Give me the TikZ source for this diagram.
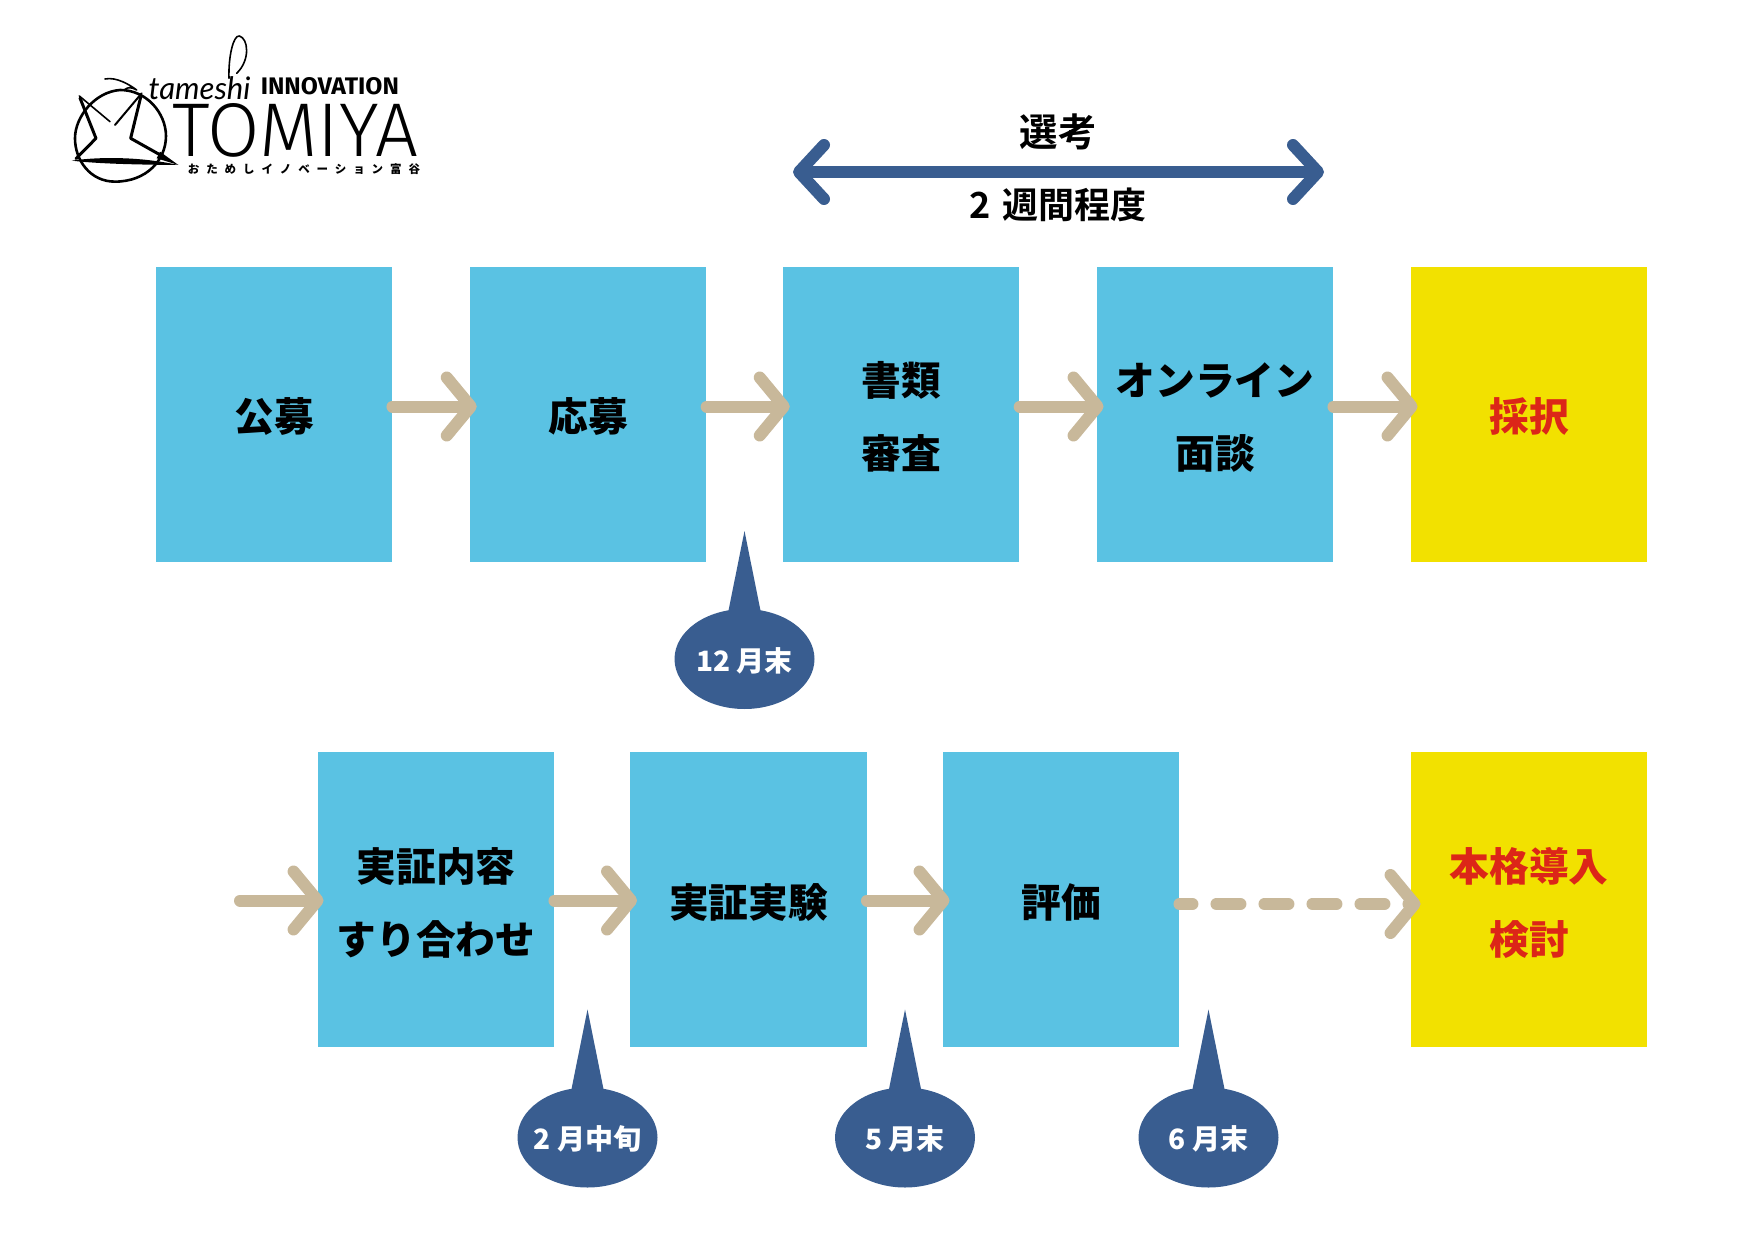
\documentclass[tikz,border=0pt]{standalone}
\usepackage{graphicx}
\usepackage{fontspec}
\usetikzlibrary{arrows.meta,shapes.geometric,calc}
\newfontfamily\cjkblack{Noto Sans CJK JP Black}
\newfontfamily\cjkbold{Noto Sans CJK JP Bold}
\newfontfamily\cjktrack[LetterSpace=60]{Noto Sans CJK JP Black}
\newfontfamily\logothin{Lato}
\newfontfamily\logowide{Fira Sans Light}
\newfontfamily\logobold{Fira Sans Bold}
\definecolor{boxblue}{HTML}{5AC2E3}
\definecolor{boxyellow}{HTML}{F2E100}
\definecolor{textred}{HTML}{DC2618}
\definecolor{tan}{HTML}{C8B89A}
\definecolor{navy}{HTML}{395D90}
\tikzset{
  stagebox/.style={rectangle,draw=none,minimum width=236.5pt,minimum height=295pt,inner sep=0pt,align=center,
     font=\cjkblack\fontsize{39.7pt}{73pt}\selectfont,text=black,text height=41pt,text depth=8pt},
  twolines/.style={text height=115pt,text depth=8pt},
  twolinesb/.style={text height=117pt,text depth=8pt},
  lowone/.style={text height=44pt,text depth=8pt},
  bluebox/.style={stagebox,fill=boxblue},
  yellowbox/.style={stagebox,fill=boxyellow,text=textred},
  flow/.style={draw=tan,line width=12pt,line cap=round,
     -{Straight Barb[length=24pt,width=58pt,line width=12pt,round]}},
  flowdash/.style={flow,dash pattern=on 24pt off 24pt,dash phase=11pt},
  span/.style={draw=navy,line width=12pt,
     {Straight Barb[length=25pt,width=54pt,line width=12pt,round]}-{Straight Barb[length=25pt,width=54pt,line width=12pt,round]}},
  bubble/.style={ellipse,fill=navy,minimum width=140pt,minimum height=100pt,inner ysep=0pt,inner xsep=-20pt,text=white,
     font=\cjkblack\fontsize{28pt}{32pt}\selectfont,text height=30pt,text depth=6pt},
  toptext/.style={font=\cjkbold\fontsize{36pt}{44pt}\selectfont,text=black,inner sep=0pt},
  logoink/.style={draw=black,line cap=round,line join=round},
}
\newcommand{\spike}[1]{\fill[navy] ([xshift=-16.5pt,yshift=46pt]#1.center) -- ([yshift=128pt]#1.center) -- ([xshift=16.5pt,yshift=46pt]#1.center) -- cycle;}
\begin{document}
\begin{tikzpicture}[x=1pt,y=-1pt]
\useasboundingbox (0,0) rectangle (1754,1241);
% top row
\node[bluebox] (a1) at (274,414.5) {公募};
\node[bluebox] (a2) at (588.2,414.5) {応募};
\node[bluebox,twolines] (a3) at (901.2,414.5) {書類\\審査};
\node[bluebox,twolines] (a4) at (1215,414.5) {オンライン\\面談};
\node[yellowbox] (a5) at (1529,414.5) {採択};
% bottom row
\node[bluebox,twolinesb] (b1) at (436,899.5) {実証内容\\[-0.5pt]すり合わせ};
\node[bluebox,lowone] (b2) at (748.5,899.5) {実証実験};
\node[bluebox,lowone] (b3) at (1061,899.5) {評価};
\node[yellowbox,twolinesb] (b4) at (1529,899.5) {本格導入\\[-0.5pt]検討};
% flow connectors
\foreach \p/\q in {a1/a2,a2/a3,a3/a4,a4/a5}
  \draw[flow] ([yshift=8pt]\p.east) -- ([xshift=7pt,yshift=8pt]\q.west);
\coordinate (start) at (240,900.5);
\draw[flow] (start) -- ([xshift=6pt,yshift=-1pt]b1.west);
\foreach \p/\q in {b1/b2,b2/b3}
  \draw[flow] ([yshift=-1pt]\p.east) -- ([xshift=7pt,yshift=-1pt]\q.west);
\draw[flowdash] ([yshift=-4.5pt]b3.east) -- ([xshift=10pt,yshift=-4.5pt]b4.west);
% selection span
\coordinate (spanl) at (793,172);
\coordinate (spanr) at (1324,172);
\draw[span] (spanl) -- (spanr);
\node[toptext,font=\cjkbold\fontsize{38.5pt}{44pt}\selectfont] (sel) at (1058,132) {選考};
\node[toptext] (dur) at (1058,205) {2 \hspace{4pt}週間程度};
% bubbles
\node[bubble] (m1) at (744.5,659) {12 月末};
\node[bubble] (m2) at (587.5,1137.5) {2 月中旬};
\node[bubble] (m3) at (905,1137.5) {5 月末};
\node[bubble] (m4) at (1208.5,1137.5) {6 月末};
\spike{m1}\spike{m2}\spike{m3}\spike{m4}
% logo
\begin{scope}[shift={(40,10)},x=0.3333pt,y=-0.3333pt]
  \draw[logoink,line width=2.6pt] (241,240) .. controls (320,240) and (378,310) .. (378,378)
     .. controls (378,450) and (320,515) .. (225,515) .. controls (150,515) and (105,450) .. (105,385)
     .. controls (105,320) and (165,245) .. (241,240);
  \draw[logoink,line width=3pt] (120,264) -- (168,385) -- (108,446);
  \draw[logoink,line width=1.6pt] (118,258) -- (210,335);
  \draw[logoink,line width=3pt] (302,262) -- (272,385) -- (370,440);
  \fill (360,425) -- (415,465) -- (350,445) -- cycle;
  \draw[logoink,line width=2pt] (305,250) -- (225,345);
  \fill (95,452) .. controls (180,440) and (300,440) .. (415,465) .. controls (300,464) and (180,462) .. cycle;
  \draw[logoink,line width=1.6pt] (195,207) .. controls (230,200) and (270,225) .. (290,240) .. controls (270,230) and (265,232) .. (255,238);
  \draw[logoink,line width=1.6pt] (567,205) .. controls (565,140) and (580,75) .. (598,78) .. controls (625,85) and (632,150) .. (590,190);
  \node[inner sep=0pt,anchor=base west] (tam) at (325,270) {\resizebox{102pt}{!}{\logothin\itshape tameshi}};
  \node[inner sep=0pt,anchor=base west] (inn) at (662,255) {\resizebox{138pt}{17pt}{\logobold INNOVATION}};
  \node[inner sep=0pt,anchor=base west] (tom) at (397,440) {\resizebox{246pt}{53pt}{\logowide TOMIYA}};
  \node[inner sep=0pt,anchor=center,font=\cjktrack\fontsize{11.5pt}{13pt}\selectfont] (kana) at (792,478) {おためしイノベーション富谷};
\end{scope}
\end{tikzpicture}
\end{document}
